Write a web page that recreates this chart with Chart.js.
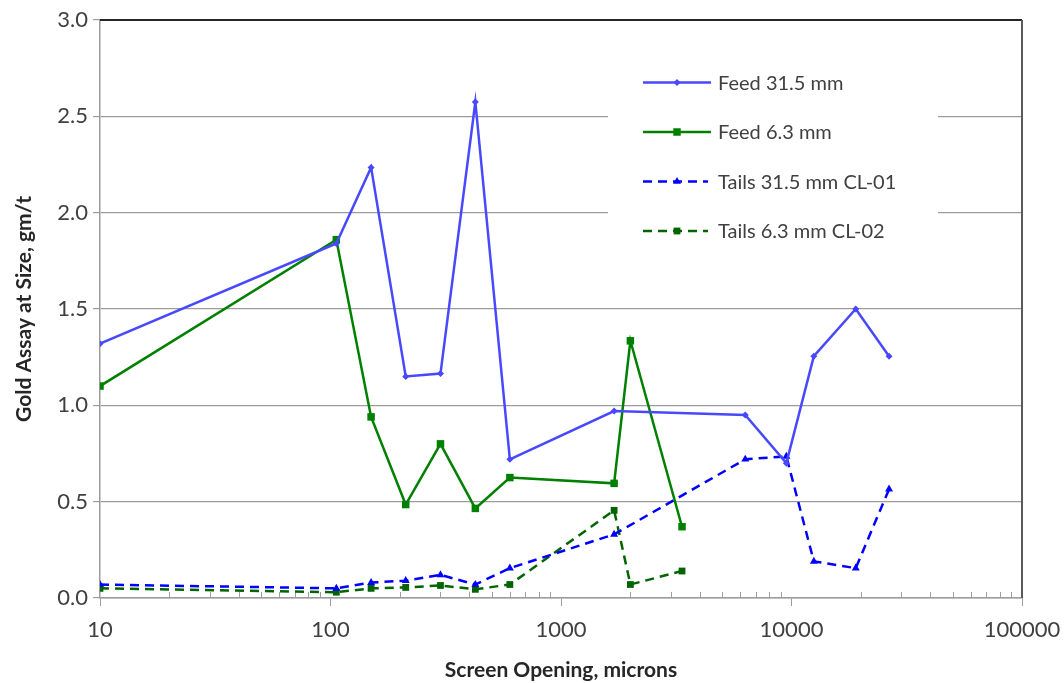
<!DOCTYPE html>
<html>
<head>
<meta charset="utf-8">
<title>Gold Assay at Size</title>
<script src="https://cdn.jsdelivr.net/npm/chart.js@4/dist/chart.umd.min.js"></script>
<style>
  html, body { margin: 0; padding: 0; background: #ffffff; }
  #wrap { width: 1064px; height: 683px; }
</style>
</head>
<body>
<div id="wrap"><canvas id="chart" width="1064" height="683"></canvas></div>
<script>
// Screen openings (microns) and gold assays (g/t) for each sample set
const feed315Sizes = [10, 106, 150, 212, 300, 425, 600, 1700, 6300, 9500, 12500, 19000, 26500];
const feed315Assay = [1.32, 1.84, 2.235, 1.15, 1.165, 2.575, 0.72, 0.97, 0.95, 0.70, 1.255, 1.50, 1.255];

const feed63Sizes = [10, 106, 150, 212, 300, 425, 600, 1700, 2000, 3350];
const feed63Assay = [1.10, 1.86, 0.94, 0.485, 0.80, 0.465, 0.625, 0.595, 1.335, 0.37];

const tails315Sizes = [10, 106, 150, 212, 300, 425, 600, 1700, 6300, 9500, 12500, 19000, 26500];
const tails315Assay = [0.07, 0.05, 0.08, 0.09, 0.12, 0.07, 0.155, 0.33, 0.72, 0.735, 0.19, 0.155, 0.565];

const tails63Sizes = [10, 106, 150, 212, 300, 425, 600, 1700, 2000, 3350];
const tails63Assay = [0.05, 0.03, 0.05, 0.055, 0.065, 0.045, 0.07, 0.455, 0.07, 0.14];

const seriesNames = ['Feed 31.5 mm', 'Feed 6.3 mm', 'Tails 31.5 mm CL-01', 'Tails 6.3 mm CL-02'];

const xTickValues = [10, 100, 1000, 10000, 100000];
const xTickLabels = ['10', '100', '1000', '10000', '100000'];
const yTickLabels = ['0.0', '0.5', '1.0', '1.5', '2.0', '2.5', '3.0'];

const xTitle = 'Screen Opening, microns';
const yTitle = 'Gold Assay at Size, gm/t';

function pairs(xs, ys) {
  return xs.map((x, i) => ({ x: x, y: ys[i] }));
}

const FONT = 'Lato, "Open Sans", sans-serif';
const TEXT = '#404040';
const GRID = '#9c9c9c';

const styles = [
  { color: '#4848ff', dash: [], point: 'rectRot', radius: 3.5, width: 2.5 },
  { color: '#008000', dash: [], point: 'rect', radius: 5.3, width: 2.5 },
  { color: '#0000ff', dash: [9, 6], point: 'triangle', radius: 4.6, width: 2.5 },
  { color: '#006400', dash: [9, 6], point: 'rect', radius: 4.8, width: 2.5 }
];

const seriesData = [
  pairs(feed315Sizes, feed315Assay),
  pairs(feed63Sizes, feed63Assay),
  pairs(tails315Sizes, tails315Assay),
  pairs(tails63Sizes, tails63Assay)
];

const datasets = seriesData.map((d, i) => ({
  label: seriesNames[i],
  data: d,
  borderColor: styles[i].color,
  backgroundColor: styles[i].color,
  borderWidth: styles[i].width,
  borderDash: styles[i].dash,
  pointStyle: styles[i].point,
  pointRadius: styles[i].radius,
  pointBorderWidth: 0,
  pointBackgroundColor: styles[i].color,
  tension: 0,
  fill: false
}));

// Draws a marker shape for the legend
function drawMarker(ctx, style, x, y) {
  const r = style.radius;
  ctx.save();
  ctx.fillStyle = style.color;
  ctx.beginPath();
  if (style.point === 'rect') {
    const s = r * Math.SQRT1_2;
    ctx.rect(x - s, y - s, 2 * s, 2 * s);
  } else if (style.point === 'rectRot') {
    ctx.moveTo(x, y - r); ctx.lineTo(x + r, y); ctx.lineTo(x, y + r); ctx.lineTo(x - r, y);
    ctx.closePath();
  } else if (style.point === 'triangle') {
    for (let k = 0; k < 3; k++) {
      const a = k * 2 * Math.PI / 3;
      const px = x + Math.sin(a) * r, py = y - Math.cos(a) * r;
      if (k === 0) ctx.moveTo(px, py); else ctx.lineTo(px, py);
    }
    ctx.closePath();
  }
  ctx.fill();
  ctx.restore();
}

// Frame, minor log ticks and the in-plot legend box
const framePlugin = {
  id: 'frame',
  beforeDatasetsDraw(chart) {
    const ctx = chart.ctx;
    const a = chart.chartArea;
    const xs = chart.scales.x;

    // minor ticks on the log axis, pointing into the plot
    ctx.save();
    ctx.strokeStyle = GRID;
    ctx.lineWidth = 1;
    for (let d = 10; d < 100000; d *= 10) {
      for (let m = 2; m <= 9; m++) {
        const px = Math.round(xs.getPixelForValue(m * d)) + 0.5;
        ctx.beginPath();
        ctx.moveTo(px, a.bottom);
        ctx.lineTo(px, a.bottom - 6);
        ctx.stroke();
      }
    }

    // top and right frame lines
    ctx.lineWidth = 2;
    ctx.strokeStyle = '#262626';
    ctx.beginPath();
    ctx.moveTo(a.left, a.top);
    ctx.lineTo(a.right, a.top);
    ctx.stroke();
    ctx.strokeStyle = '#5a5a5a';
    ctx.beginPath();
    ctx.moveTo(a.right, a.top);
    ctx.lineTo(a.right, a.bottom);
    ctx.stroke();

    // legend box
    ctx.fillStyle = '#ffffff';
    ctx.fillRect(608, 48, 330, 214);
    const rowY = [82.5, 132, 181.5, 231];
    styles.forEach((s, i) => {
      const y = rowY[i];
      ctx.save();
      ctx.strokeStyle = s.color;
      ctx.lineWidth = s.width;
      ctx.setLineDash(s.dash);
      ctx.beginPath();
      ctx.moveTo(643, y);
      ctx.lineTo(s.dash.length ? 708 : 711, y);
      ctx.stroke();
      ctx.restore();
      drawMarker(ctx, s, 677, y);
      ctx.fillStyle = TEXT;
      ctx.font = '20px ' + FONT;
      ctx.textBaseline = 'middle';
      ctx.textAlign = 'left';
      ctx.fillText(seriesNames[i], 718, y + 1);
    });
    ctx.restore();
  }
};

new Chart(document.getElementById('chart'), {
  type: 'line',
  data: { datasets: datasets },
  plugins: [framePlugin],
  options: {
    responsive: false,
    animation: false,
    events: [],
    layout: { padding: { top: 20, right: 42, left: 0, bottom: 0 } },
    plugins: { legend: { display: false }, tooltip: { enabled: false } },
    scales: {
      x: {
        type: 'logarithmic',
        position: 'bottom',
        min: 10,
        max: 100000,
        afterBuildTicks(scale) {
          scale.ticks = xTickValues.map(v => ({ value: v, major: true }));
        },
        afterFit(scale) {
          scale.height = 85;
          scale.paddingLeft = 0;
          scale.paddingRight = 0;
        },
        ticks: {
          autoSkip: false,
          maxRotation: 0,
          padding: 11,
          color: TEXT,
          font: { family: FONT, size: 22 },
          callback: (v, i) => xTickLabels[i]
        },
        grid: { display: true, drawOnChartArea: false, drawTicks: true, tickLength: 8, color: GRID, lineWidth: 1 },
        border: { display: true, color: GRID, width: 1.5 },
        title: {
          display: true,
          text: xTitle,
          color: '#262626',
          font: { family: FONT, size: 21, weight: 'bold' },
          padding: { top: 0, bottom: 0 }
        }
      },
      y: {
        type: 'linear',
        position: 'left',
        min: 0,
        max: 3,
        afterFit(scale) {
          scale.width = 100;
          scale.paddingTop = 0;
          scale.paddingBottom = 0;
        },
        ticks: {
          stepSize: 0.5,
          padding: 5,
          color: TEXT,
          font: { family: FONT, size: 22 },
          callback: (v, i) => yTickLabels[i]
        },
        grid: { display: true, drawTicks: true, tickLength: 7, color: GRID, lineWidth: 1.2 },
        border: { display: true, color: GRID, width: 1.5 },
        title: {
          display: true,
          text: yTitle,
          color: '#262626',
          font: { family: FONT, size: 21, weight: 'bold' },
          padding: { top: 12, bottom: 0 }
        }
      }
    }
  }
});
</script>
</body>
</html>
